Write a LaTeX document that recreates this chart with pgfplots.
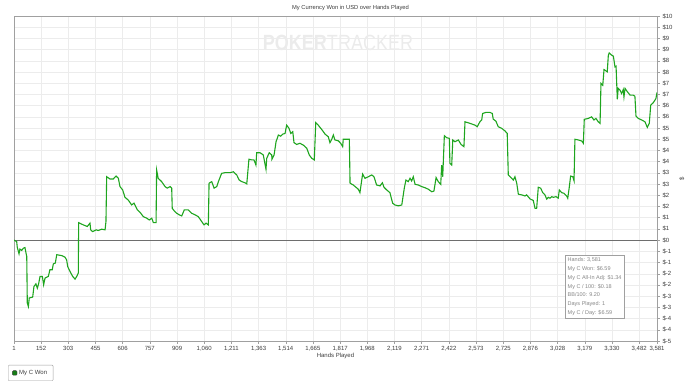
\documentclass[border=0pt]{standalone}
\usepackage{fontspec}
\setmainfont{Liberation Sans}
\usepackage{pgfplots}
\pgfplotsset{compat=1.18}
\definecolor{pgreen}{RGB}{30,165,30}
\definecolor{axgray}{RGB}{160,160,160}
\definecolor{gridgray}{RGB}{236,236,236}
\definecolor{zerogray}{RGB}{110,110,110}
\definecolor{txtgray}{RGB}{60,60,60}
\definecolor{statgray}{RGB}{135,135,135}
\begin{document}
\begin{tikzpicture}[x=1pt,y=1pt]
\useasboundingbox (0,0) rectangle (700,384);
\node[text=black!8, font=\bfseries\fontsize{22}{22}\selectfont, xscale=0.82, inner sep=0pt] at (338,341) {POKER\mdseries TRACKER};
\begin{axis}[
  at={(14pt,43pt)}, anchor=south west,
  scale only axis, width=643pt, height=325pt,
  xmin=1, xmax=3581, ymin=-4.5, ymax=10,
  axis line style={draw=axgray, line width=0.9pt},
  grid=major, major grid style={draw=gridgray, line width=0.5pt},
  tick align=outside, major tick length=3pt,
  tick style={draw=axgray, line width=0.5pt},
  xtick pos=bottom, ytick pos=right, yticklabel pos=right,
  xtick={1,152,303,455,606,757,909,1060,1211,1363,1514,1665,1817,1968,2119,2271,2422,2573,2725,2876,3028,3179,3330,3482,3581},
  xticklabels={1,152,303,455,606,757,909,{1,060},{1,211},{1,363},{1,514},{1,665},{1,817},{1,968},{2,119},{2,271},{2,422},{2,573},{2,725},{2,876},{3,028},{3,179},{3,330},{3,482},{3,581}},
  ytick={-4.5,-4,...,10},
  yticklabels={\$-5,\$-4,\$-4,\$-3,\$-3,\$-2,\$-2,\$-1,\$-1,\$0,\$1,\$1,\$2,\$2,\$3,\$3,\$4,\$4,\$5,\$5,\$6,\$6,\$7,\$7,\$8,\$8,\$9,\$9,\$10,\$10},
  ticklabel style={font=\fontsize{6}{6.5}\selectfont, text=txtgray},
  xticklabel style={yshift=1pt},
  yticklabel style={xshift=-1pt},
  title={My Currency Won in USD over Hands Played},
  title style={font=\fontsize{5.8}{6}\selectfont, text=txtgray, yshift=-4pt, xshift=15pt},
  xlabel={Hands Played},
  xlabel style={font=\fontsize{6}{6.5}\selectfont, text=txtgray, yshift=5pt},
  ylabel={\$},
  ylabel style={font=\fontsize{6}{6.5}\selectfont, text=txtgray},
  legend style={at={(axis description cs:-0.0093,-0.123)}, anchor=south west,
    draw=axgray, rounded corners=1pt, fill=white, font=\fontsize{6}{6.5}\selectfont,
    text=txtgray, inner xsep=4pt, inner ysep=3pt},
  legend image code/.code={\draw[fill=pgreen!75!black, draw=black!75, line width=0.4pt] (0pt,-2.3pt) rectangle (4.6pt,2.3pt);},
]
\addplot[draw=zerogray, line width=0.7pt, forget plot] coordinates {(1,0) (3581,0)};
\addplot[pgreen, line width=1.1pt] table {
x y
1 0
16 -0.06
19 -0.31
29 -0.61
34 -0.40
44 -0.46
53 -0.36
62 -0.33
68 -0.58
72 -0.73
75 -2.80
81 -2.96
86 -2.58
105 -2.54
112 -2.07
123 -1.95
131 -2.14
138 -1.95
146 -1.62
159 -1.62
166 -1.99
174 -1.69
192 -1.62
201 -1.32
214 -1.32
220 -1.06
231 -1.02
239 -0.65
267 -0.69
285 -0.76
294 -0.88
300 -1.18
313 -1.40
328 -1.62
341 -1.74
350 -1.62
359 -1.47
361 0.78
387 0.68
409 0.61
424 0.76
428 0.46
439 0.38
458 0.46
470 0.43
489 0.49
508 0.46
513 0.83
517 2.83
535 2.73
554 2.73
569 2.86
582 2.76
591 2.39
606 2.24
619 1.91
637 1.79
656 1.57
669 1.65
688 1.35
703 1.24
721 1.05
740 0.98
754 0.90
768 0.98
777 0.78
792 0.78
795 3.13
804 2.76
823 2.61
842 2.39
854 2.32
870 2.39
879 2.32
882 1.42
897 1.27
907 1.20
921 1.13
935 1.08
949 1.35
971 1.35
990 1.20
1009 1.13
1027 1.05
1046 0.83
1059 0.68
1070 0.76
1083 0.68
1087 2.54
1102 2.61
1115 2.32
1130 2.39
1139 2.61
1157 2.98
1176 3.01
1204 3.01
1222 3.05
1241 2.91
1255 2.68
1269 2.61
1287 2.56
1297 2.51
1309 3.61
1324 3.58
1337 3.58
1348 3.35
1352 3.90
1371 3.90
1389 3.80
1404 3.16
1408 3.65
1422 3.90
1436 3.80
1437 3.61
1449 3.80
1460 4.39
1473 4.69
1486 4.64
1497 4.73
1510 4.76
1519 5.13
1532 4.99
1542 4.76
1553 4.84
1560 4.35
1575 4.27
1593 4.32
1612 4.24
1631 4.10
1645 3.80
1659 3.65
1673 3.58
1681 5.24
1695 5.13
1714 4.94
1733 4.73
1751 4.61
1760 4.35
1770 4.50
1779 4.69
1788 4.47
1807 4.43
1820 4.32
1831 4.17
1834 4.50
1868 4.50
1872 2.54
1890 2.46
1905 2.36
1918 2.27
1927 2.12
1942 2.95
1955 2.76
1974 2.83
1993 2.91
2005 2.83
2020 2.46
2039 2.42
2052 2.56
2061 2.36
2076 2.24
2094 2.12
2109 1.65
2122 1.57
2141 1.53
2160 1.57
2174 2.32
2183 2.68
2196 2.61
2206 2.76
2215 2.64
2224 2.83
2234 2.49
2252 2.46
2271 2.39
2289 2.34
2308 2.27
2327 2.16
2339 2.19
2351 2.79
2363 2.61
2377 2.49
2382 3.35
2388 2.83
2397 4.66
2410 4.57
2425 4.54
2428 3.43
2438 3.35
2444 4.47
2456 4.39
2475 4.47
2490 4.27
2506 4.17
2512 5.28
2540 5.21
2568 5.13
2580 5.06
2595 5.28
2605 5.36
2610 5.65
2629 5.70
2651 5.70
2664 5.65
2669 5.40
2684 5.31
2697 5.06
2716 4.99
2735 4.87
2747 4.76
2753 2.91
2772 2.76
2781 2.68
2790 2.83
2800 2.54
2809 2.05
2828 2.02
2846 1.97
2855 2.02
2874 1.84
2892 1.77
2902 1.42
2911 1.42
2920 2.36
2933 2.32
2945 2.12
2957 2.02
2967 1.83
2976 1.91
2985 1.87
2995 1.94
3004 1.91
3019 1.94
3031 1.87
3037 2.24
3050 2.12
3063 2.09
3078 1.97
3084 1.87
3093 2.39
3100 2.86
3112 2.83
3119 2.65
3124 4.50
3143 4.47
3162 4.42
3171 4.32
3176 5.39
3198 5.43
3217 5.50
3230 5.36
3241 5.43
3254 5.28
3264 5.21
3269 6.99
3279 6.91
3286 7.61
3297 7.55
3304 7.51
3310 8.25
3315 8.35
3329 8.25
3338 8.21
3347 7.73
3353 7.76
3360 6.28
3365 6.77
3375 6.69
3384 6.54
3393 6.72
3397 6.39
3403 6.77
3416 6.62
3431 6.47
3449 6.47
3458 6.42
3464 5.53
3477 5.43
3496 5.36
3514 5.28
3527 5.03
3538 5.21
3546 6.02
3560 6.13
3570 6.25
3575 6.32
3581 6.59
};
\addlegendentry{My C Won}
\end{axis}
\node[draw=axgray, fill=white, anchor=north west, align=left, inner xsep=2.5pt, inner ysep=2.5pt,
  font=\fontsize{5.5}{8.8}\selectfont, text=statgray] at (565,129)
  {Hands: 3,581\\My C Won: \$6.59\\My C All-In Adj: \$1.34\\My C / 100: \$0.18\\BB/100: 9.20\\Days Played: 1\\My C / Day: \$6.59};
\end{tikzpicture}
\end{document}
